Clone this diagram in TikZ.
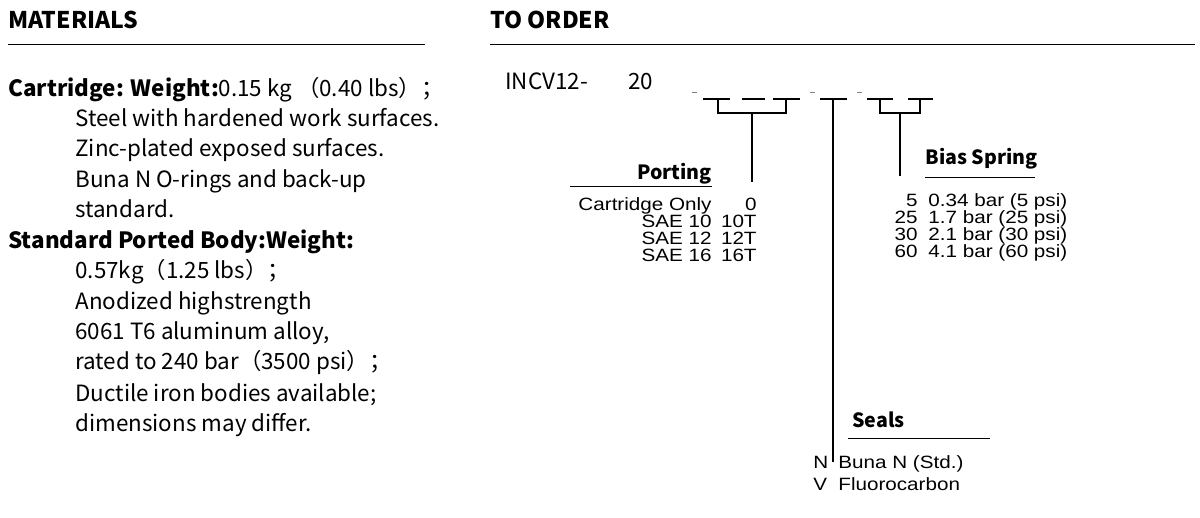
\documentclass[tikz,border=0pt]{standalone}
\usepackage{fontspec}
\setmainfont{Liberation Sans}
\newfontfamily\cjk{Noto Sans CJK SC}
\newfontfamily\wide[FakeStretch=1.16]{Liberation Sans}
\usetikzlibrary{positioning}
\tikzset{
  head/.style={anchor=base west,inner sep=0pt,font=\cjk\bfseries\fontsize{11.5}{13}\selectfont},
  body/.style={anchor=base west,inner sep=0pt,font=\cjk\fontsize{11.2}{13}\selectfont},
  label/.style={inner sep=0pt,font=\cjk\bfseries\fontsize{9.8}{12}\selectfont},
  item/.style={font=\wide\fontsize{8.9}{10}\selectfont,inner sep=0pt},
  rule/.style={line width=0.5pt},
  bar/.style={line width=0.6pt}
}
\begin{document}
\begin{tikzpicture}[x=0.5pt,y=-0.5pt]
    \useasboundingbox (0,0) rectangle (1200,518);
    % Materials column
    \node[head] (mat) at (8,29) {MATERIALS};
    \draw[rule] (8,45) -- (425,45);
    \node[body] (c1) at (8,97) {\textbf{Cartridge: Weight:}0.15 kg （0.40 lbs）；};
    \node[body] at (75,127) {Steel with hardened work surfaces.};
    \node[body] at (75,157) {Zinc-plated exposed surfaces.};
    \node[body] at (75,188) {Buna N O-rings and back-up};
    \node[body] at (75,218) {standard.};
    \node[body] (c2) at (8,249) {\textbf{Standard Ported Body:Weight:}};
    \node[body] at (75,279) {0.57kg（1.25 lbs）；};
    \node[body] at (75,310) {Anodized highstrength};
    \node[body] at (75,340) {6061 T6 aluminum alloy,};
    \node[body] at (75,370) {rated to 240 bar（3500 psi）；};
    \node[body] at (75,401) {Ductile iron bodies available;};
    \node[body] at (75,431) {dimensions may differ.};
    % Order column
    \node[head] (ord) at (490,29) {TO ORDER};
    \draw[rule] (490,45) -- (1195,45);
    \node[body] (code) at (505,90) {INCV12-};
    \node[body] (size) at (628,90) {20};
    % dashes and blanks
    \foreach \a/\b in {692/697,810/815,857/862}
      \draw[line width=0.4pt,gray] (\a,92) -- (\b,92);
    \foreach \a/\b in {703/730,742/765,773/800,820/847,867/893,908/933}
      \draw[bar] (\a,99) -- (\b,99);
    % porting bracket
    \draw[bar] (718,99) |- (786,113) -- (786,99);
    \coordinate (pt) at (752,113);
    \coordinate (pb) at (752,182);
    \draw[bar] (pt) -- (pb);
    % seals line
    \coordinate (st) at (833,99);
    \coordinate (sb) at (833,462);
    \draw[bar] (st) -- (sb);
    % bias bracket
    \draw[bar] (880,99) |- (920,113) -- (920,99);
    \coordinate (bt) at (900,113);
    \coordinate (bb) at (900,176);
    \draw[bar] (bt) -- (bb);
    % porting table
    \node[label,anchor=base east] (port) at (712,180) {Porting};
    \draw[rule] (570,187) -- (712,187);
    \foreach \t/\c/\y in {Cartridge Only/0/211,SAE 10/10T/228,SAE 12/12T/245,SAE 16/16T/262}{
      \node[item,anchor=base east] at (712,\y) {\t};
      \node[item,anchor=base east] at (757,\y) {\c};
    }
    % bias spring table
    \node[label,anchor=base west] (bias) at (925,165) {Bias Spring};
    \draw[rule] (925,178) -- (1035,178);
    \foreach \n/\v/\y in {5/0.34 bar (5 psi)/207,25/1.7 bar (25 psi)/224,30/2.1 bar (30 psi)/241,60/4.1 bar (60 psi)/258}{
      \node[item,anchor=base east] at (918,\y) {\n};
      \node[item,anchor=base west] at (928,\y) {\v};
    }
    % seals table
    \node[label,anchor=base west] (seal) at (852,428) {Seals};
    \draw[rule] (848,438) -- (990,438);
    \node[item,anchor=base west] at (813,468) {N};
    \node[item,anchor=base west] at (838,468) {Buna N (Std.)};
    \node[item,anchor=base west] at (813,490) {V};
    \node[item,anchor=base west] at (838,490) {Fluorocarbon};
\end{tikzpicture}
\end{document}
